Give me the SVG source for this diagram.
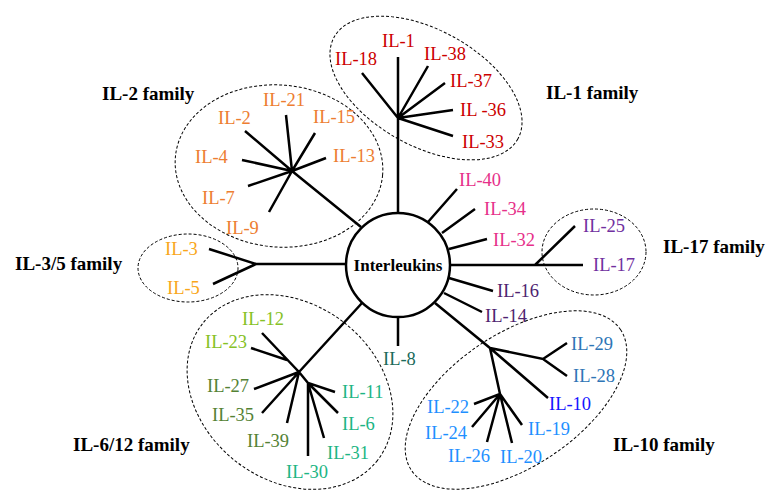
<svg xmlns="http://www.w3.org/2000/svg" width="768" height="491" viewBox="0 0 768 491">
<style>
text{font-family:"Liberation Serif","Times New Roman",serif;}
.l{font-size:18.5px;}
.fam{font-size:19px;font-weight:bold;fill:#000;}
.ln{stroke:#000;stroke-width:2.5;fill:none;stroke-linecap:butt;}
.el{stroke:#000;stroke-width:1;stroke-dasharray:3,2;fill:none;}
.red{fill:#CC0000}.org{fill:#ED7D31}.yel{fill:#F9A61A}.pnk{fill:#E6308A}.pur{fill:#7030A0}.dpu{fill:#4E2370}
.stl{fill:#2E75B6}.blu{fill:#1414FF}.sky{fill:#1E90FF}.tea{fill:#1B6B5B}.lim{fill:#86C126}.olv{fill:#548235}.grn{fill:#1DB584}
</style>
<rect width="768" height="491" fill="#fff"/>
<g id="connectors">
<!-- IL-1 -->
<path class="ln" d="M398,213 V57 M398,118 L362,73 M398,118 L428,66 M398,118 L445,83 M398,118 L453,110 M398,118 L453,136"/>
<!-- IL-2 -->
<path class="ln" d="M361,227 L292,171 L245,131 M292,171 L286,115 M292,171 L315,133 M292,171 L326,158 M292,171 L242,160 M292,171 L248,186 M292,171 L269,212"/>
<!-- IL-3/5 -->
<path class="ln" d="M346,264 H256 L209,249 M256,264 L213,284"/>
<!-- IL-17 -->
<path class="ln" d="M450,265 H583 M535,265 L575,226"/>
<!-- singles -->
<path class="ln" d="M428,222 L457,189 M442,233 L475,209 M449,249 L487,239 M449,278 L493,291 M444,293 L482,312 M398,317 V346"/>
<!-- IL-10 -->
<path class="ln" d="M435,303 L490,348 L543,359 L567,343 M543,359 L567,376 M490,348 L548,398 M490,348 L500,394 L474,404 M500,394 L472,427 M500,394 L487,442 M500,394 L512,443 M500,394 L522,425"/>
<!-- IL-6/12 -->
<path class="ln" d="M362,303 L299,372 L262,333 M287,360 L251,348 M299,372 L254,389 M299,372 L262,413 M299,372 L287,423 M299,372 L308,383 L335,392 M308,383 L338,413 M308,383 L324,438 M308,383 V456"/>
</g>
<g id="center">
<circle cx="398" cy="265" r="52" fill="#fff" stroke="#000" stroke-width="2.5"/>
<text x="398" y="271" text-anchor="middle" font-size="17" font-weight="bold">Interleukins</text>
</g>
<g id="il1-family">
<ellipse class="el" cx="426" cy="88" rx="105" ry="58" transform="rotate(29 426 88)"/>
<text class="fam" x="546" y="99">IL-1 family</text>
<text class="l red" x="382" y="47">IL-1</text>
<text class="l red" x="335" y="65">IL-18</text>
<text class="l red" x="424" y="60">IL-38</text>
<text class="l red" x="450" y="87">IL-37</text>
<text class="l red" x="460" y="116">IL -36</text>
<text class="l red" x="462" y="148">IL-33</text>
</g>
<g id="il2-family">
<ellipse class="el" cx="279" cy="166" rx="104" ry="81" transform="rotate(5 279 166)"/>
<text class="fam" x="102" y="100">IL-2 family</text>
<text class="l org" x="263" y="106">IL-21</text>
<text class="l org" x="218" y="124">IL-2</text>
<text class="l org" x="313" y="123">IL-15</text>
<text class="l org" x="333" y="162">IL-13</text>
<text class="l org" x="195" y="163">IL-4</text>
<text class="l org" x="202" y="204">IL-7</text>
<text class="l org" x="226" y="234">IL-9</text>
</g>
<g id="il35-family">
<ellipse class="el" cx="188" cy="268" rx="50" ry="34"/>
<text class="fam" x="15" y="270">IL-3/5 family</text>
<text class="l yel" x="165" y="255">IL-3</text>
<text class="l yel" x="167" y="294">IL-5</text>
</g>
<g id="il17-family">
<ellipse class="el" cx="594" cy="252" rx="52" ry="43"/>
<text class="fam" x="663" y="253">IL-17 family</text>
<text class="l pur" x="583" y="232">IL-25</text>
<text class="l pur" x="593" y="271">IL-17</text>
</g>
<g id="singles">
<text class="l pnk" x="459" y="186">IL-40</text>
<text class="l pnk" x="484" y="215">IL-34</text>
<text class="l pnk" x="493" y="246">IL-32</text>
<text class="l dpu" x="497" y="297">IL-16</text>
<text class="l dpu" x="485" y="322">IL-14</text>
<text class="l tea" x="383" y="365">IL-8</text>
</g>
<g id="il10-family">
<ellipse class="el" cx="516" cy="400" rx="126" ry="66" transform="rotate(-34 516 400)"/>
<text class="fam" x="613" y="451">IL-10 family</text>
<text class="l stl" x="571" y="350">IL-29</text>
<text class="l stl" x="573" y="382">IL-28</text>
<text class="l blu" x="549" y="410">IL-10</text>
<text class="l sky" x="427" y="413">IL-22</text>
<text class="l sky" x="425" y="439">IL-24</text>
<text class="l sky" x="448" y="462">IL-26</text>
<text class="l sky" x="500" y="463">IL-20</text>
<text class="l sky" x="528" y="435">IL-19</text>
</g>
<g id="il612-family">
<ellipse class="el" cx="290" cy="392" rx="111" ry="88" transform="rotate(38 290 392)"/>
<text class="fam" x="73" y="451">IL-6/12 family</text>
<text class="l lim" x="242" y="325">IL-12</text>
<text class="l lim" x="205" y="348">IL-23</text>
<text class="l olv" x="207" y="392">IL-27</text>
<text class="l olv" x="212" y="421">IL-35</text>
<text class="l olv" x="247" y="447">IL-39</text>
<text class="l grn" x="342" y="398">IL-11</text>
<text class="l grn" x="342" y="430">IL-6</text>
<text class="l grn" x="327" y="459">IL-31</text>
<text class="l grn" x="286" y="478">IL-30</text>
</g>
</svg>
